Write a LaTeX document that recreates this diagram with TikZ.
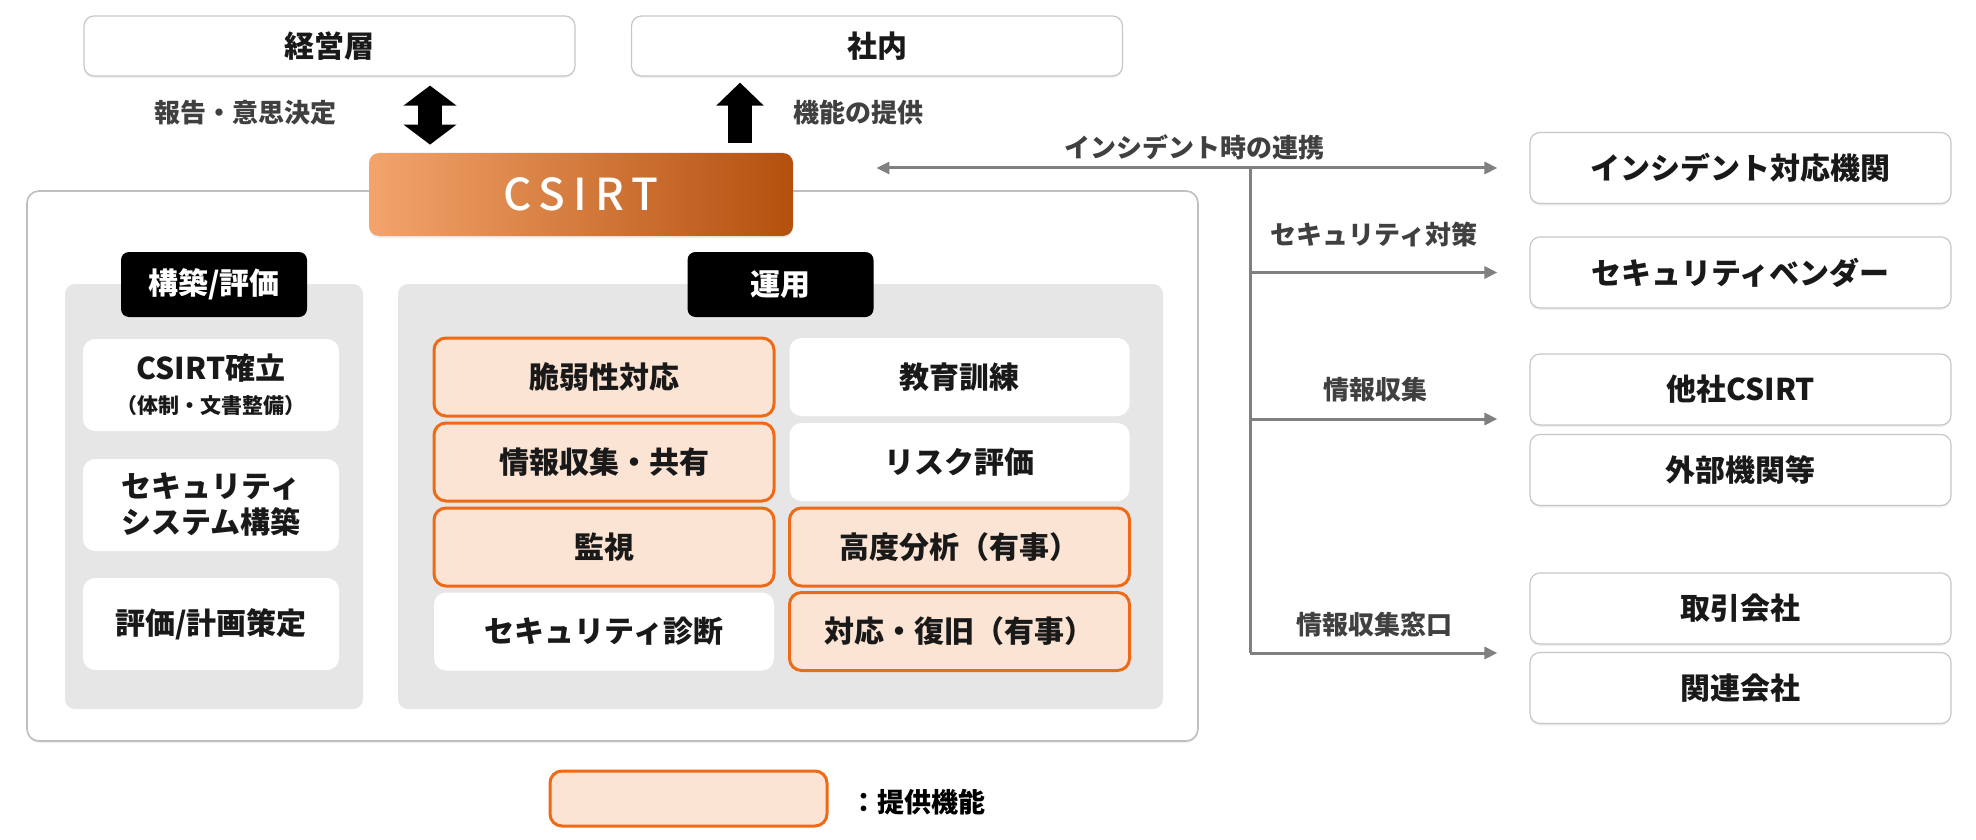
\documentclass[tikz,border=0pt]{standalone}
\usepackage{fontspec}
\setmainfont{Noto Sans CJK JP}
\newfontfamily\mediumfont{Noto Sans CJK JP}[UprightFont={* Medium}]
\usetikzlibrary{arrows.meta,shadows}
\definecolor{peach}{HTML}{FCE4D4}
\definecolor{csorange}{HTML}{EE6A17}
\definecolor{panelgray}{HTML}{E6E6E6}
\definecolor{linegray}{HTML}{808080}
\definecolor{textgray}{HTML}{404040}
\definecolor{csL}{HTML}{F3A46C}
\definecolor{csM}{HTML}{E8660F}
\definecolor{csD}{HTML}{B4500E}
\newcommand{\boxfont}{\fontsize{15pt}{18pt}\selectfont\bfseries}
\newcommand{\labelfont}{\fontsize{13pt}{15pt}\selectfont\bfseries}
\newcommand{\notefont}{\fontsize{10.5pt}{13pt}\selectfont\bfseries}

\begin{document}
\begin{tikzpicture}[x=0.5pt,y=-0.5pt,
    base/.style={rounded corners=5pt,align=center,inner sep=0pt,font=\boxfont,text=black!90},
    shade/.style={drop shadow={shadow xshift=0pt,shadow yshift=-1pt,opacity=.12}},
    topbox/.style={base,shade,draw=black!22,line width=.6pt,fill=white,minimum width=245.5pt,minimum height=30pt},
    extbox/.style={base,shade,draw=black!22,line width=.6pt,fill=white,minimum width=210.5pt,minimum height=35.5pt},
    panel/.style={rounded corners=5pt,fill=panelgray,minimum height=212.5pt},
    tag/.style={base,fill=black,text=white,minimum width=93pt,minimum height=32.5pt,rounded corners=4pt},
    plain/.style={base,fill=white,minimum width=170pt,minimum height=39pt,rounded corners=6pt},
    offer/.style={plain,fill=peach,draw=csorange,line width=1.5pt},
    leftbox/.style={base,fill=white,minimum width=128pt,minimum height=46pt,rounded corners=6pt},
    note/.style={font=\labelfont,text=textgray,inner sep=1pt},
    link/.style={draw=linegray,line width=1.5pt},
    tip/.tip={Triangle[length=6.5pt,width=6pt]},
    bigarrow/.style={line width=12pt,draw=black}]
  \useasboundingbox (0,0) rectangle (1976,840);

  % frame and panels
  \node[shade,draw=black!25,line width=.8pt,fill=white,rounded corners=6pt,
    minimum width=585.5pt,minimum height=275pt] (frame) at (612.5,466) {};
  \node[panel,minimum width=149pt] (buildpanel) at (214,496.5) {};
  \node[panel,minimum width=382.5pt] (opspanel) at (780.5,496.5) {};

  \node[topbox] (keiei) at (329.5,46) {経営層};
  \node[topbox] (shanai) at (877,46) {社内};

  \node[base,shade,left color=csL,middle color=csM,right color=csD,text=white,
    minimum width=212pt,minimum height=41.5pt,
    font={\mediumfont\fontsize{22pt}{26pt}\selectfont\addfontfeatures{LetterSpace=18}}] (csirt) at (581,194.5) {CSIRT};

  \node[tag] (buildtag) at (214,284.5) {構築/評価};
  \node[tag] (opstag) at (780.5,284.5) {運用};

  % build column
  \node[leftbox] (kakuritsu) at (211,385) {CSIRT確立\\[-1pt]{\notefont （体制・文書整備）}};
  \node[leftbox] (kochiku) at (211,505) {セキュリティ\\システム構築};
  \node[leftbox] (keikaku) at (211,624) {評価/計画策定};

  % operation grid
  \node[offer] (zeijaku) at (604,377) {脆弱性対応};
  \node[offer] (kyoyu) at (604,462) {情報収集・共有};
  \node[offer] (kanshi) at (604,547) {監視};
  \node[plain] (shindan) at (604,631.5) {セキュリティ診断};
  \node[plain] (kyoiku) at (959.5,377) {教育訓練};
  \node[plain] (risk) at (959.5,462) {リスク評価};
  \node[offer] (bunseki) at (959.5,547) {高度分析（有事）};
  \node[offer] (fukkyu) at (959.5,631.5) {対応・復旧（有事）};

  % outside parties
  \node[extbox] (incident) at (1740.5,168) {インシデント対応機関};
  \node[extbox] (vendor) at (1740.5,272.5) {セキュリティベンダー};
  \node[extbox] (tasha) at (1740.5,389.5) {他社CSIRT};
  \node[extbox] (gaibu) at (1740.5,470) {外部機関等};
  \node[extbox] (torihiki) at (1740.5,608.5) {取引会社};
  \node[extbox] (kanren) at (1740.5,688) {関連会社};

  % legend
  \node[offer,minimum width=138.5pt,minimum height=27.5pt] (legend) at (688.5,798.5) {};
  \node[font=\fontsize{13.5pt}{16pt}\selectfont\bfseries,anchor=west,inner sep=0pt] (legendtext) at (850,802) {：提供機能};

  % labels
  \node[note] (hokoku) at (245,113) {報告・意思決定};
  \node[note] (teikyo) at (858,113) {機能の提供};
  \node[note] (renkei) at (1194,147) {インシデント時の連携};
  \node[note] (taisaku) at (1374,235) {セキュリティ対策};
  \node[note] (shushu) at (1375,390) {情報収集};
  \node[note] (madoguchi) at (1374,625) {情報収集窓口};

  % arrows
  \draw[bigarrow,{Triangle[length=10pt,width=26pt]}-{Triangle[length=10pt,width=26pt]}]
    ([xshift=50.25pt,yshift=-4.5pt]keiei.south) -- ([xshift=-75.5pt,yshift=4pt]csirt.north);
  \draw[bigarrow,-{Triangle[length=11.5pt,width=23pt]}]
    ([xshift=79.5pt,yshift=5pt]csirt.north) -- ([xshift=-68.5pt,yshift=-3pt]shanai.south);

  \coordinate (trunk) at (1250,168);
  \coordinate (branch) at (1250,419);
  \coordinate (trunkend) at (1250,653);
  \draw[link,tip-tip,shorten <=41.5pt,shorten >=16pt] (csirt.east |- incident.west) -- (incident.west);
  \draw[link] (trunk) -- (trunkend);
  \draw[link,-tip,shorten >=16pt] (trunk |- vendor.west) -- (vendor.west);
  \draw[link,-tip,shorten >=16pt] (branch) -- (branch -| tasha.west);
  \draw[link,-tip,shorten >=16pt] (trunkend) -- (trunkend -| kanren.west);
\end{tikzpicture}
\end{document}
